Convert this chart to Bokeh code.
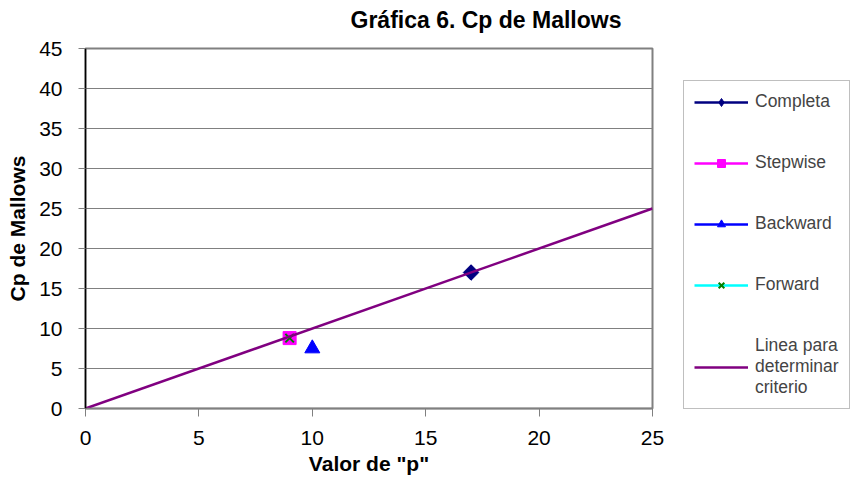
import math
from bokeh.plotting import figure
from bokeh.models import Range1d, Legend, LegendItem, FixedTicker, Title
from bokeh.embed import file_html
from bokeh.resources import INLINE

# Data
title_text = "Gráfica 6. Cp de Mallows"
series_names = ["Completa", "Stepwise", "Backward", "Forward"]
p_values = [17, 9, 10, 9]
cp_values = [17, 8.8, 7.5, 8.8]
line_label = "Linea para\ndeterminar\ncriterio"
line_x = [0, 25]
line_y = [0, 25]
x_ticks = [0, 5, 10, 15, 20, 25]
y_ticks = [0, 5, 10, 15, 20, 25, 30, 35, 40, 45]

FONT = "Liberation Sans"

p = figure(output_backend="svg", toolbar_location=None,
           x_range=Range1d(0, 25), y_range=Range1d(0, 45),
           frame_width=567, frame_height=360,
           min_border_left=85, min_border_right=188, min_border_top=48, min_border_bottom=68)

# spacer panel between frame and title, then the title itself
spacer = Title(text=" ", text_font_size="2px", standoff=10)
p.add_layout(spacer, "above")
title = Title(text=title_text, text_font=FONT, text_font_size="23px", text_font_style="bold",
              text_color="black", align="left", offset=265, standoff=4)
p.add_layout(title, "above")

p.background_fill_color = "white"
p.border_fill_color = "white"
p.outline_line_color = "#808080"
p.outline_line_width = 2

p.xgrid.grid_line_color = None
p.ygrid.grid_line_color = "#808080"
p.ygrid.grid_line_width = 1
p.ygrid.ticker = FixedTicker(ticks=y_ticks)

p.xaxis.ticker = FixedTicker(ticks=x_ticks)
p.yaxis.ticker = FixedTicker(ticks=y_ticks)
for ax in (p.xaxis[0], p.yaxis[0]):
    ax.major_label_text_font = FONT
    ax.major_label_text_font_size = "21px"
    ax.major_label_text_color = "black"
    ax.axis_label_text_font = FONT
    ax.axis_label_text_font_size = "21px"
    ax.axis_label_text_font_style = "bold"
    ax.axis_label_text_color = "black"
    ax.minor_tick_line_color = None
    ax.major_tick_in = 0
p.xaxis.axis_label = 'Valor de "p"'
p.yaxis.axis_label = "Cp de Mallows"
p.xaxis.axis_line_color = "#808080"
p.xaxis.axis_line_width = 1.5
p.xaxis.major_tick_line_color = "#808080"
p.xaxis.major_tick_out = 8
p.yaxis.axis_line_color = "black"
p.yaxis.axis_line_width = 1.5
p.yaxis.major_tick_line_color = "#808080"
p.yaxis.major_tick_out = 7
p.xaxis.major_label_standoff = 14
p.yaxis.major_label_standoff = 16
p.xaxis.axis_label_standoff = 4
p.yaxis.axis_label_standoff = 7

line_colors = ["#000080", "#FF00FF", "#0000FF", "#00FFFF"]
marker_colors = ["#000080", "#FF00FF", "#0000FF", "#008000"]
markers = ["diamond", "square", "triangle", "x"]
sizes = [15, 13, 15, 12]

items = []
for i, name in enumerate(series_names):
    lr = p.line([p_values[i]], [cp_values[i]], line_color=line_colors[i], line_width=2.5)
    if markers[i] == "x":
        sr = p.scatter([p_values[i]], [cp_values[i]], marker="x", size=sizes[i],
                       line_color=marker_colors[i], line_width=2)
    else:
        sr = p.scatter([p_values[i]], [cp_values[i]], marker=markers[i], size=sizes[i],
                       fill_color=marker_colors[i], line_color=marker_colors[i])
    if markers[i] == "diamond":
        # rotated square on top gives the even-sided diamond seen in the plot
        p.scatter([p_values[i]], [cp_values[i]], marker="square", size=11, angle=math.pi / 4,
                  fill_color=marker_colors[i], line_color=marker_colors[i])
    items.append(LegendItem(label=name, renderers=[lr, sr]))

lr = p.line(line_x, line_y, line_color="#800080", line_width=2.5)
items.append(LegendItem(label=line_label, renderers=[lr]))

legend = Legend(items=items, location=(31, -1))
legend.label_text_font = FONT
legend.label_text_font_size = "17.5px"
legend.label_text_line_height = 1.45
legend.glyph_width = 54
legend.glyph_height = 20
legend.label_height = 20
legend.label_standoff = 7
legend.spacing = 40
legend.padding = 10
legend.margin = 0
legend.border_line_color = "#808080"
legend.border_line_width = 1
legend.background_fill_color = "white"
legend.background_fill_alpha = 1
p.add_layout(legend, "right")

open("out.html", "w").write(file_html(p, INLINE))
